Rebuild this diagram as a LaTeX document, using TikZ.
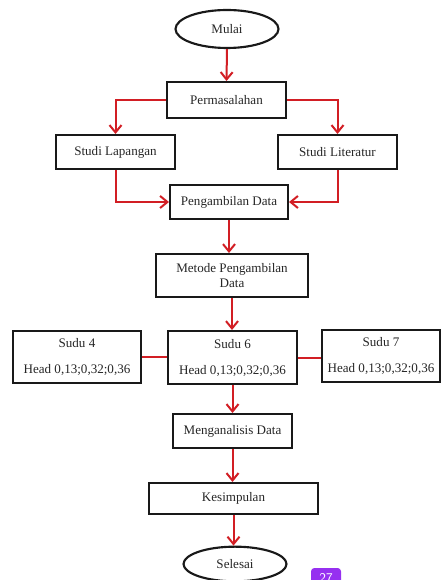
\documentclass[tikz,border=0pt]{standalone}
\usepackage{fontspec}
\setmainfont{Liberation Serif}
\usetikzlibrary{arrows.meta,shapes.geometric}
\definecolor{arrred}{RGB}{210,30,36}
\definecolor{badgecol}{RGB}{150,48,240}
\begin{document}
\begin{tikzpicture}[x=0.75pt,y=-0.75pt,
  txt/.style={font=\fontsize{9.8}{11.5}\selectfont,text=black!85},
  box/.style={txt,draw=black!90,line width=1.5pt,rectangle,inner sep=0pt,align=center},
  oval/.style={txt,draw=black!90,line width=1.6pt,ellipse,inner sep=0pt},
  arr/.style={draw=arrred,line width=1.5pt,-{Straight Barb[length=5.5pt,width=9pt,line width=1.5pt]}},
  link/.style={draw=arrred,line width=1.5pt}]
\useasboundingbox (0,0) rectangle (442,580);
\node[oval,minimum width=77.25pt,minimum height=28.5pt] (mulai) at (227,29) {Mulai};
\node[box,minimum width=89.25pt,minimum height=27pt] (perm) at (226.5,100) {Permasalahan};
\node[box,minimum width=89.25pt,minimum height=25.5pt] (lap) at (115.5,152) {Studi Lapangan};
\node[box,minimum width=89.25pt,minimum height=25.5pt] (lit) at (337.5,152) {Studi Literatur};
\node[box,minimum width=88.5pt,minimum height=25.5pt] (peng) at (229,202) {Pengambilan Data};
\node[box,minimum width=114pt,minimum height=32.25pt] (met) at (232,275.5) {Metode Pengambilan\\Data};
\node[box,minimum width=96pt,minimum height=39pt] (s4) at (77,357) {Sudu 4\\[8pt]Head 0,13;0,32;0,36};
\node[box,minimum width=96.75pt,minimum height=39.75pt] (s6) at (232.5,357.5) {Sudu 6\\[8pt]Head 0,13;0,32;0,36};
\node[box,minimum width=88.5pt,minimum height=39pt] (s7) at (381,356) {Sudu 7\\[8pt]Head 0,13;0,32;0,36};
\node[box,minimum width=89.25pt,minimum height=25.5pt] (anal) at (232.5,431) {Menganalisis Data};
\node[box,minimum width=126.75pt,minimum height=23.25pt] (kes) at (233.5,498.5) {Kesimpulan};
\node[oval,minimum width=77.25pt,minimum height=26pt] (sel) at (235,564) {Selesai};
\node[fill=badgecol,rounded corners=2.5pt,minimum width=22.5pt,minimum height=15pt,inner sep=0pt,text=white,font=\sffamily\fontsize{10}{12}\selectfont] (pg) at (326,578) {27};
\draw[arr] (mulai.south) -- (perm.north);
\draw[arr] (perm.west) -| (lap.north);
\draw[arr] (perm.east) -| (lit.north);
\draw[arr] (lap.south) |- (peng.west);
\draw[arr] (lit.south) |- (peng.east);
\draw[arr] (peng.south) -- (peng.south |- met.north);
\draw[arr] (met.south) -- (met.south |- s6.north);
\draw[link] (s4.east) -- (s4.east -| s6.west);
\draw[link] (s6.east) -- (s6.east -| s7.west);
\draw[arr] (s6.south) -- (s6.south |- anal.north);
\draw[arr] (anal.south) -- (anal.south |- kes.north);
\draw[arr] (kes.south) -- (kes.south |- sel.north);
\end{tikzpicture}
\end{document}
